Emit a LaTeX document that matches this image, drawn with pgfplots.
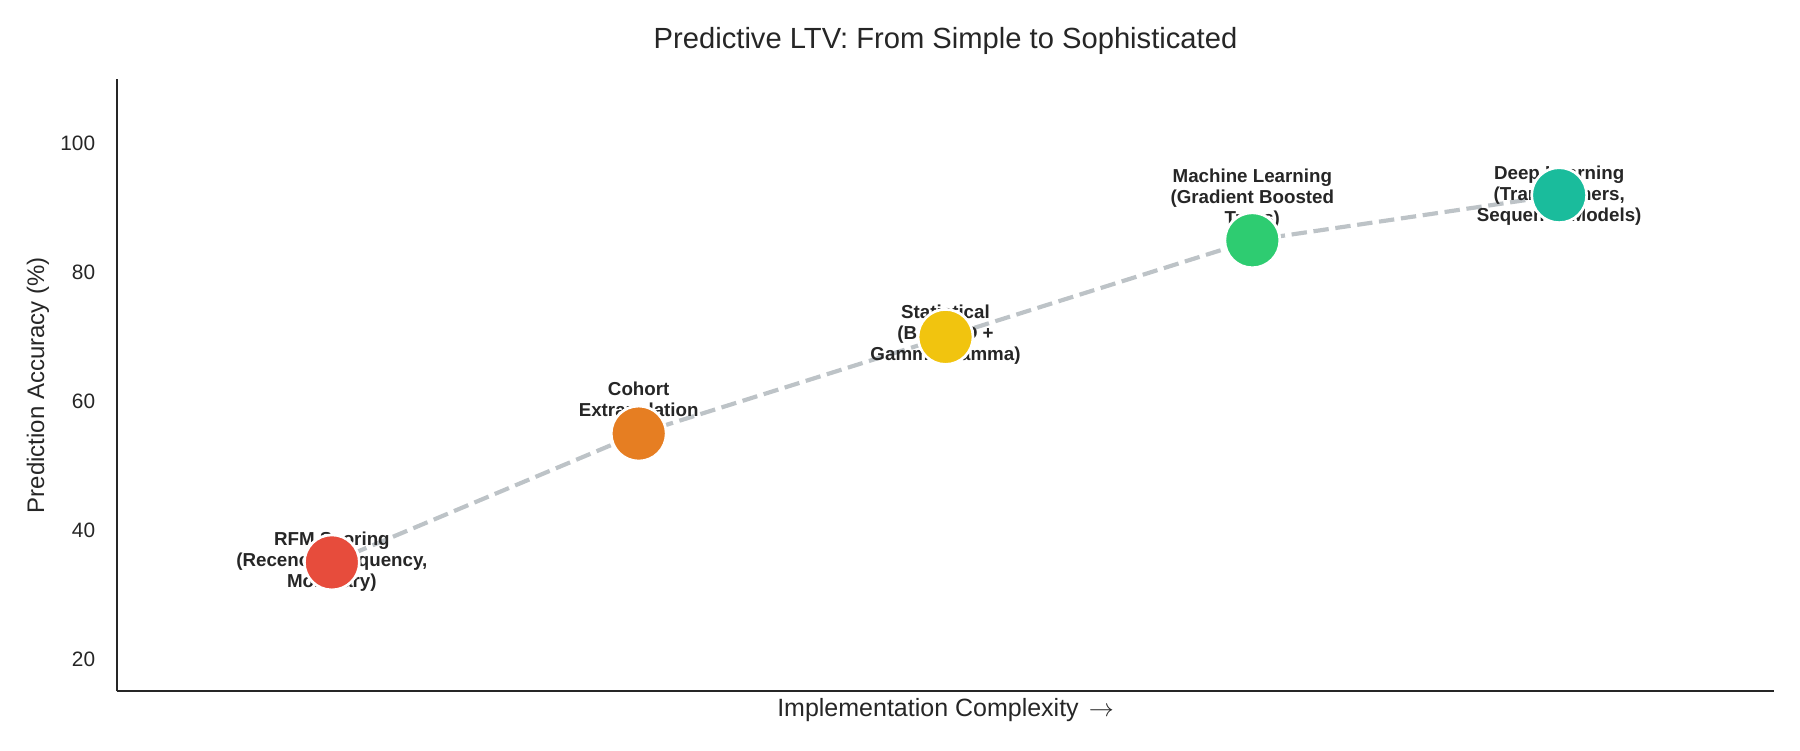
\documentclass[border=0pt]{standalone}
\usepackage{pgfplots}
\pgfplotsset{compat=1.18}
\usepackage{fontspec}
\setmainfont{Liberation Sans}
\definecolor{txt}{HTML}{262626}
\definecolor{lgray}{HTML}{BDC3C7}
\definecolor{cA}{HTML}{E74C3C}
\definecolor{cB}{HTML}{E67E22}
\definecolor{cC}{HTML}{F1C40F}
\definecolor{cD}{HTML}{2ECC71}
\definecolor{cE}{HTML}{1ABC9C}
\begin{document}
\begin{tikzpicture}
\begin{axis}[
  at={(0,0)}, anchor=south west,
  scale only axis, width=795.3pt, height=293.8pt,
  xmin=-0.7, xmax=4.7, ymin=15, ymax=110,
  axis x line*=bottom, axis y line*=left,
  axis line style={-, draw=txt, line width=1.1pt},
  xtick=\empty,
  ytick={20,40,60,80,100},
  major tick length=0pt,
  tick style={draw=none},
  yticklabel style={font=\fontsize{10}{12}\selectfont, text=txt, xshift=-7pt},
  /pgf/number format/assume math mode=true,
  title={Predictive LTV: From Simple to Sophisticated},
  title style={at={(axis description cs:0.5,1)}, anchor=center, yshift=12.4pt, font=\fontsize{14}{16}\selectfont, text=txt},
  xlabel={Implementation Complexity\hspace{0.4em}$\rightarrow$},
  xlabel style={at={(axis description cs:0.5,0)}, anchor=center, yshift=-8.8pt, font=\fontsize{12}{14}\selectfont, text=txt},
  ylabel={Prediction Accuracy (\%)},
  ylabel style={at={(axis description cs:-0.0478,0.5)}, anchor=center, font=\fontsize{11.5}{14}\selectfont, text=txt},
  set layers,
  clip=false,
]
\addplot[color=lgray, line width=2pt, dash pattern=on 7.4pt off 3.2pt] coordinates {(0,35) (1,55) (2,70) (3,85) (4,92)};
\addplot[only marks, on layer=axis foreground, mark=*, mark size=13.2pt, mark options={draw=white, fill=cA, line width=1.3pt}] coordinates {(0,35)};
\addplot[only marks, on layer=axis foreground, mark=*, mark size=13.2pt, mark options={draw=white, fill=cB, line width=1.3pt}] coordinates {(1,55)};
\addplot[only marks, on layer=axis foreground, mark=*, mark size=13.2pt, mark options={draw=white, fill=cC, line width=1.3pt}] coordinates {(2,70)};
\addplot[only marks, on layer=axis foreground, mark=*, mark size=13.2pt, mark options={draw=white, fill=cD, line width=1.3pt}] coordinates {(3,85)};
\addplot[only marks, on layer=axis foreground, mark=*, mark size=13.2pt, mark options={draw=white, fill=cE, line width=1.3pt}] coordinates {(4,92)};
\tikzset{lbl/.style={align=center, anchor=center, text=txt, font=\bfseries\fontsize{9}{10}\selectfont}}
\node[lbl] at (axis cs:0,35.1) {RFM Scoring\\(Recency, Frequency,\\Monetary)};
\node[lbl] at (axis cs:1,60.0) {Cohort\\Extrapolation};
\node[lbl] at (axis cs:2,70.3) {Statistical\\(BG/NBD +\\Gamma-Gamma)};
\node[lbl] at (axis cs:3,91.5) {Machine Learning\\(Gradient Boosted\\Trees)};
\node[lbl] at (axis cs:4,91.9) {Deep Learning\\(Transformers,\\Sequence Models)};
\end{axis}
\pgfresetboundingbox
\useasboundingbox (-56.2pt,-28.2pt) rectangle (807.8pt,331.8pt);
\end{tikzpicture}
\end{document}
